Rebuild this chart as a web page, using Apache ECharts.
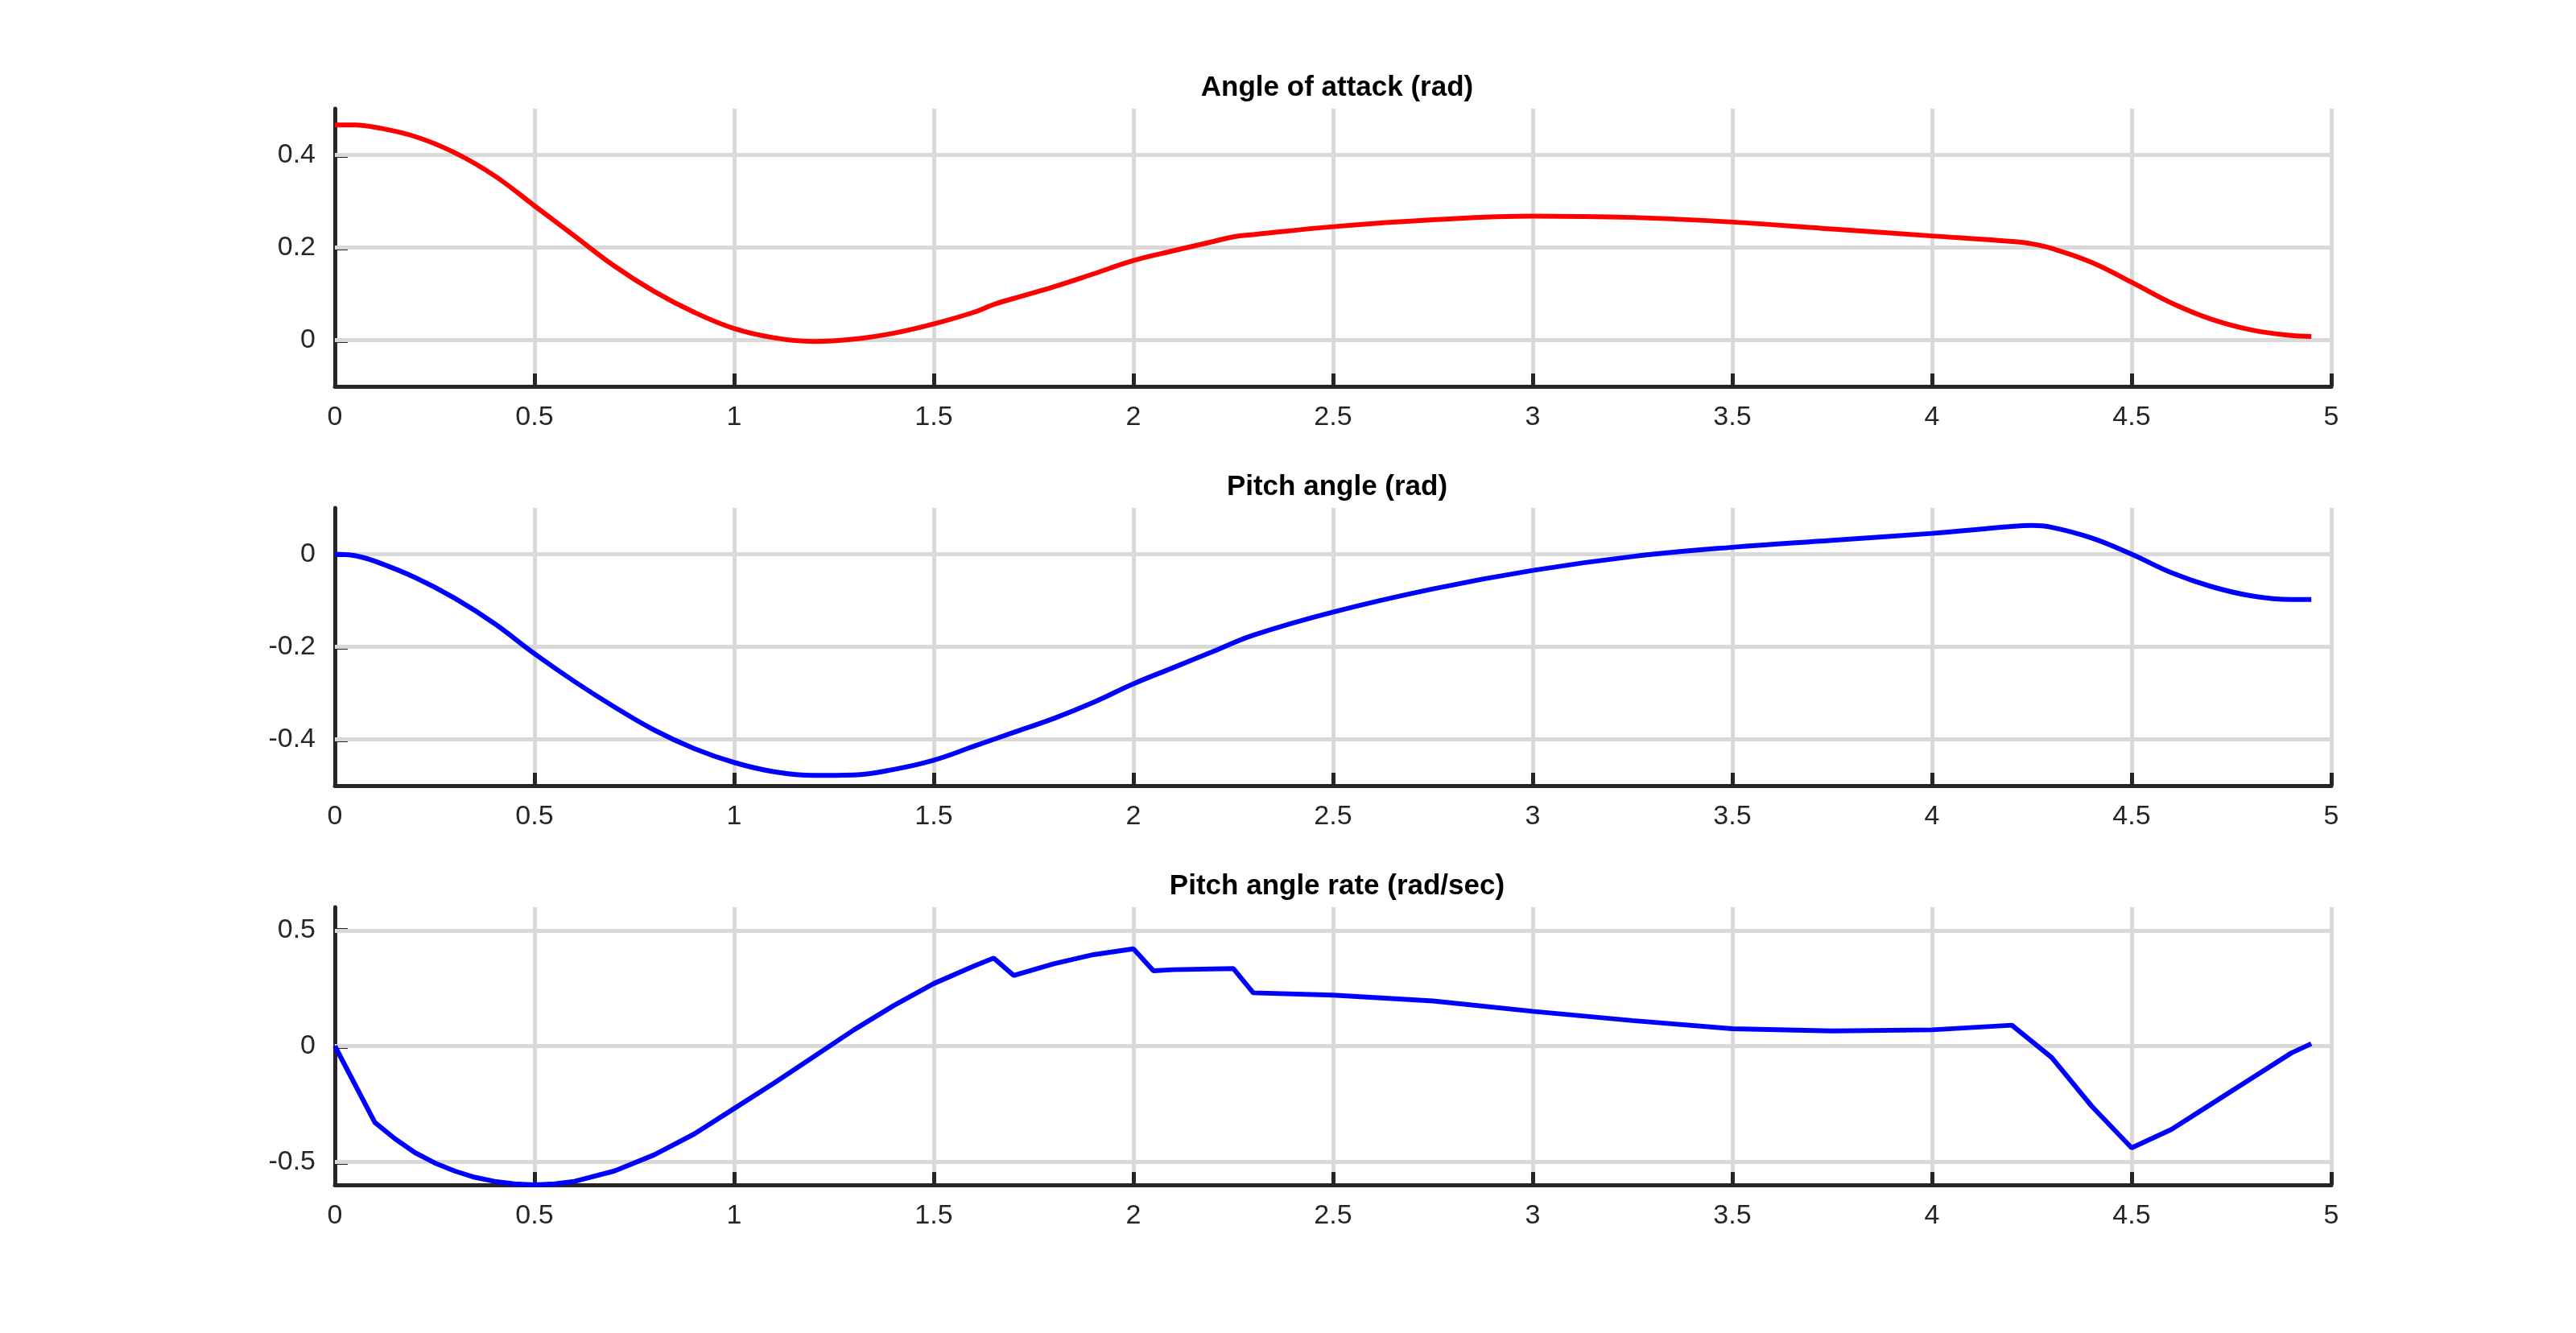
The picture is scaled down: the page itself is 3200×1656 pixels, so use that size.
<!DOCTYPE html>
<html>
<head>
<meta charset="utf-8">
<script src="https://cdn.jsdelivr.net/npm/echarts@6/dist/echarts.min.js"></script>
<style>html,body{margin:0;padding:0;background:#fff}#main{width:3200px;height:1656px}</style>
</head>
<body>
<div id="main"></div>
<script>
// time samples (s) and values
var tAlpha = [0,0.05,0.1,0.2,0.3,0.4,0.5,0.6,0.7,0.8,0.9,1.0,1.1,1.2,1.3,1.4,1.5,1.6,1.65,1.7,1.8,1.9,2.0,2.1,2.2,2.25,2.3,2.5,2.75,3.0,3.25,3.5,3.75,4.0,4.2,4.25,4.3,4.4,4.5,4.6,4.7,4.8,4.9,4.95];
var alpha = [0.465,0.465,0.46,0.44,0.405,0.355,0.29,0.225,0.16,0.105,0.06,0.025,0.005,-0.003,0.002,0.015,0.035,0.06,0.077,0.09,0.115,0.143,0.172,0.193,0.213,0.223,0.228,0.245,0.26,0.268,0.265,0.255,0.24,0.225,0.213,0.208,0.198,0.168,0.125,0.08,0.045,0.022,0.01,0.008];

var tTheta = [0,0.05,0.1,0.2,0.3,0.4,0.5,0.6,0.7,0.8,0.9,1.0,1.1,1.2,1.3,1.4,1.5,1.6,1.7,1.8,1.9,2.0,2.1,2.2,2.3,2.5,2.75,3.0,3.25,3.5,3.75,4.0,4.2,4.25,4.3,4.4,4.5,4.6,4.7,4.8,4.9,4.95];
var theta = [0,-0.003,-0.015,-0.05,-0.095,-0.15,-0.215,-0.275,-0.33,-0.38,-0.42,-0.45,-0.47,-0.478,-0.477,-0.465,-0.445,-0.415,-0.385,-0.355,-0.32,-0.28,-0.245,-0.21,-0.175,-0.125,-0.075,-0.035,-0.005,0.015,0.03,0.045,0.06,0.062,0.058,0.035,0,-0.04,-0.07,-0.09,-0.098,-0.098];

var tQ = [0,0.1,0.15,0.2,0.25,0.3,0.35,0.4,0.45,0.5,0.55,0.6,0.7,0.8,0.9,1.0,1.1,1.2,1.3,1.4,1.5,1.6,1.65,1.7,1.8,1.9,2.0,2.05,2.1,2.25,2.3,2.5,2.75,3.0,3.25,3.5,3.75,4.0,4.2,4.3,4.4,4.5,4.6,4.7,4.8,4.9,4.95];
var q = [0,-0.33,-0.40,-0.46,-0.505,-0.54,-0.567,-0.585,-0.596,-0.6,-0.596,-0.585,-0.54,-0.47,-0.38,-0.27,-0.16,-0.045,0.07,0.175,0.27,0.345,0.38,0.305,0.355,0.395,0.42,0.325,0.33,0.335,0.23,0.22,0.195,0.15,0.11,0.075,0.065,0.07,0.09,-0.05,-0.26,-0.44,-0.36,-0.25,-0.14,-0.03,0.01];

var titles = ['Angle of attack (rad)', 'Pitch angle (rad)', 'Pitch angle rate (rad/sec)'];
var yRanges = [[-0.1, 0.5], [-0.5, 0.1], [-0.6, 0.6]];
var yTicks = [[0, 0.2, 0.4], [-0.4, -0.2, 0], [-0.5, 0, 0.5]];

var myChart = echarts.init(document.getElementById('main'));

var tops = [135, 631, 1127];
var axisColor = '#262626';
var font = 'Liberation Sans, Arial, sans-serif';

function pairs(t, v) {
    return t.map(function (x, i) { return [x, v[i]]; });
}
var allData = [pairs(tAlpha, alpha), pairs(tTheta, theta), pairs(tQ, q)];
var colors = ['#ff0000', '#0000ff', '#0000ff'];
var smoothing = [0.4, 0.4, false];

var grids = [], xAxes = [], yAxes = [], series = [], titleArr = [];
for (var i = 0; i < 3; i++) {
    grids.push({ left: 416, right: 304, top: tops[i], height: 345 });
    titleArr.push({
        text: titles[i], left: 1656, top: tops[i] - 48, textAlign: 'center',
        textStyle: { fontFamily: font, fontWeight: 'bold', fontSize: 35, color: '#000' }
    });
    xAxes.push({
        type: 'value', gridIndex: i, min: 0, max: 5, interval: 0.5,
        axisLine: { onZero: false, lineStyle: { color: axisColor, width: 5 } },
        axisTick: { inside: true, length: 16, lineStyle: { color: axisColor, width: 5 } },
        axisLabel: { color: axisColor, fontSize: 34, fontFamily: font, margin: 22 },
        splitLine: { show: true, lineStyle: { color: '#d9d9d9', width: 5 } }
    });
    yAxes.push({
        type: 'value', gridIndex: i, min: yRanges[i][0], max: yRanges[i][1],
        axisLine: { show: true, onZero: false, lineStyle: { color: axisColor, width: 5 } },
        axisTick: { show: true, inside: true, length: 16, customValues: yTicks[i], lineStyle: { color: axisColor, width: 6 } },
        axisLabel: { color: axisColor, fontSize: 34, fontFamily: font, margin: 24, customValues: yTicks[i] },
        splitLine: { show: false }
    });
    series.push({
        type: 'line', xAxisIndex: i, yAxisIndex: i, data: allData[i],
        showSymbol: false, smooth: smoothing[i], z: 5,
        lineStyle: { color: colors[i], width: 6 },
        markLine: {
            silent: true, symbol: 'none', label: { show: false }, z: 1,
            lineStyle: { color: '#d9d9d9', width: 5, type: 'solid' },
            data: yTicks[i].map(function (v) { return { yAxis: v }; })
        }
    });
}

var option = {
    backgroundColor: '#fff',
    animation: false,
    title: titleArr,
    grid: grids,
    xAxis: xAxes,
    yAxis: yAxes,
    series: series
};
myChart.setOption(option);
</script>
</body>
</html>
